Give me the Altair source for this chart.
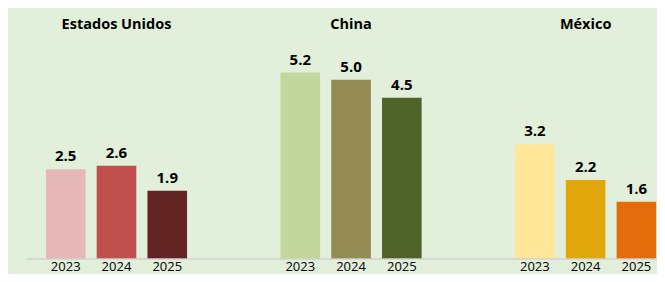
import altair as alt
import pandas as pd

countries = ["Estados Unidos", "China", "México"]
years = ["2023", "2024", "2025"]
values = {
    "Estados Unidos": [2.5, 2.6, 1.9],
    "China": [5.2, 5.0, 4.5],
    "México": [3.2, 2.2, 1.6],
}
colors = {
    "Estados Unidos": ["#E6B9B8", "#C0504D", "#632523"],
    "China": ["#C3D69B", "#948A54", "#4F6228"],
    "México": ["#FFE699", "#E0A80C", "#E46C0A"],
}

rows = []
for c in countries:
    for y, v, col in zip(years, values[c], colors[c]):
        rows.append({"country": c, "year": y, "value": v, "color": col, "label": f"{v:.1f}", "zero": 0})
df = pd.DataFrame(rows)

FONT = "Open Sans"
BG = "#E2EFDA"

xscale = alt.Scale(domain=countries, range=[-8.8, 694.9], paddingInner=0, paddingOuter=0)
xoff = alt.Scale(domain=years, paddingInner=0.22, paddingOuter=0.92)
yscale = alt.Scale(domain=[0, 7], range=[251, 0], nice=False, zero=True)

base = alt.Chart(df).encode(
    x=alt.X("country:N", scale=xscale, axis=None, sort=countries),
    xOffset=alt.XOffset("year:N", scale=xoff, sort=years),
)

bars = base.mark_bar().encode(
    y=alt.Y("value:Q", scale=yscale, axis=None),
    color=alt.Color("color:N", scale=None),
)

vlabels = base.mark_text(font=FONT, fontSize=15, fontWeight="bold", baseline="alphabetic", dy=-8, color="#000000").encode(
    y=alt.Y("value:Q", axis=None),
    text="label:N",
)

ylabels = base.mark_text(font=FONT, fontSize=13, baseline="alphabetic", color="#000000").encode(
    y=alt.value(262.5),
    text="year:N",
)

title_txt = base.transform_filter(alt.datum.year == "2024").mark_text(
    font=FONT, fontSize=14.5, fontWeight="bold", baseline="alphabetic", color="#000000"
).encode(
    y=alt.value(20.5),
    text="country:N",
)

baseline = alt.Chart(df).transform_filter(
    (alt.datum.year == "2023") & (alt.datum.country == "China")
).mark_rule(color="#D0D0D0", strokeWidth=1.5).encode(
    x=alt.value(19), x2=alt.value(649), y=alt.Y("zero:Q", axis=None)
)

chart = alt.layer(bars, baseline, vlabels, ylabels, title_txt).properties(
    width=649, height=266, background=BG, padding=0, autosize=alt.AutoSizeParams(type="none")
).configure_view(stroke=None)

chart.save("out.html", embed_options={"renderer": "svg", "actions": False})
